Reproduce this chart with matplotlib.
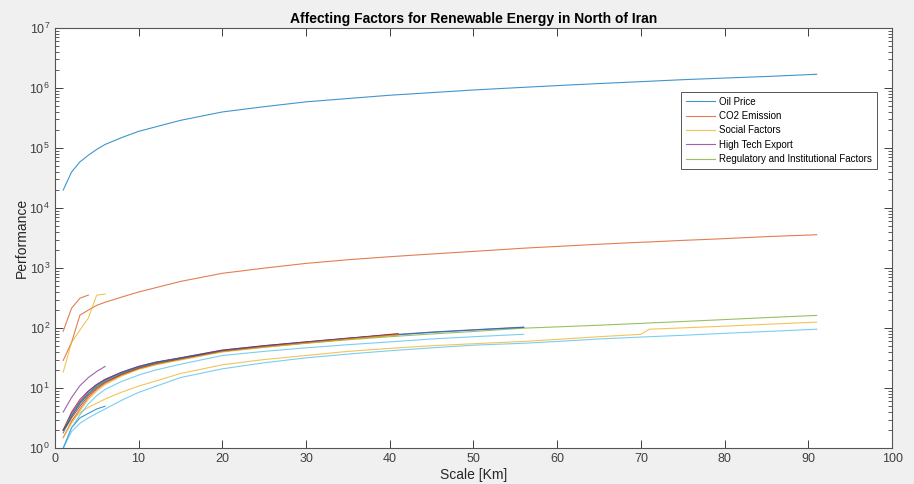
import matplotlib.pyplot as plt
import numpy as np

plt.rcParams['font.family'] = ['Liberation Sans', 'DejaVu Sans']

# matlab default colour order
colours = ['#0072BD', '#D95319', '#EDB120', '#7E2F8E', '#77AC30', '#4DBEEE', '#A2142F']

title = 'Affecting Factors for Renewable Energy in North of Iran'
xlabel = 'Scale [Km]'
ylabel = 'Performance'
labels = ['Oil Price', 'CO2 Emission', 'Social Factors', 'High Tech Export',
          'Regulatory and Institutional Factors']

# x grids
x_long = [1, 2, 3, 4, 5, 6, 8, 10, 15, 20, 25, 30, 35, 40, 45, 50, 56, 60, 65, 70, 71, 75, 80, 85, 91]
x_s6 = [1, 2, 3, 4, 5, 6]
x_s4 = [1, 2, 3, 4]
x_b41 = [1, 2, 3, 4, 5, 6, 8, 10, 12, 15, 20, 25, 30, 35, 41]
x_b56 = [1, 2, 3, 4, 5, 6, 8, 10, 12, 15, 20, 25, 30, 35, 40, 45, 50, 56]

# series values, in plotting order
oil = [2.0e4, 4.0e4, 5.9e4, 7.6e4, 9.5e4, 1.15e5, 1.5e5, 1.9e5, 2.9e5, 4.0e5, 4.9e5, 5.9e5, 6.7e5,
       7.6e5, 8.4e5, 9.3e5, 1.03e6, 1.1e6, 1.19e6, 1.28e6, 1.3e6, 1.38e6, 1.47e6, 1.56e6, 1.7e6]
co2 = [29, 58, 165, 200, 240, 270, 330, 400, 600, 820, 1000, 1200, 1380, 1550, 1720, 1900, 2150,
       2300, 2500, 2700, 2730, 2900, 3100, 3350, 3600]
social = [18.5, 58, 93, 147, 355, 370]
hightech = [4, 7, 11, 15, 19, 23]
regulatory = [2, 3.5, 5.8, 8, 10.5, 13, 17, 21, 31, 41, 48, 56, 64, 72, 80, 88, 100, 105, 112,
              120, 122, 129, 139, 150, 163]
low_blue = [1, 1.9, 2.6, 3.2, 3.8, 4.5, 6.3, 8.5, 15, 21, 26.5, 32, 37, 42, 47, 52, 56, 60, 66, 71,
            72, 76, 82, 88, 96]
red_a = [2, 4, 6.5, 9, 11.5, 14, 18.5, 23, 27, 32, 43, 51, 59, 68, 81]
blue_short = [1, 2.2, 3.2, 3.8, 4.5, 5.0]
orange_short = [89, 215, 316, 355]
low_yellow = [2, 2.9, 3.9, 4.8, 5.6, 6.6, 8.6, 10.8, 17.5, 24.5, 30, 35, 41, 46, 51, 55, 60, 65, 72,
              79, 96, 101, 108, 116, 126]
purple_b = [2, 3.8, 6, 8.8, 11.5, 14, 18.5, 23, 27, 32, 43, 51, 59, 68, 77, 86, 94, 104]
green_b = [2, 3.5, 5.5, 8, 10.5, 13, 17.5, 22, 26, 31, 41, 49, 57, 66, 79]
lblue_b = [1, 2.2, 3.6, 5.5, 7.5, 9.5, 13, 16.5, 20, 25, 35, 41, 47, 53, 59, 66, 72, 79]
red_b = [2, 3.2, 5, 7.5, 10, 12.5, 17, 21.5, 25.5, 30.5, 42, 50, 58, 67, 80]
blue_b = [1.8, 3.4, 5.6, 8.2, 11, 13.5, 18, 22.5, 26.5, 31.5, 42, 50, 58, 67, 76, 85, 93, 103]
orange_b = [1.5, 2.8, 4.5, 7, 9.5, 12, 16.5, 21, 25, 30, 41, 49, 57, 66, 78]
yellow_b = [1.5, 2.6, 4.2, 6.5, 9, 11.5, 16, 20.5, 24.5, 29.5, 40, 48, 56, 65, 77]

series = [(x_long, oil), (x_long, co2), (x_s6, social), (x_s6, hightech), (x_long, regulatory),
          (x_long, low_blue), (x_b41, red_a), (x_s6, blue_short), (x_s4, orange_short),
          (x_long, low_yellow), (x_b56, purple_b), (x_b41, green_b), (x_b56, lblue_b),
          (x_b41, red_b), (x_b56, blue_b), (x_b41, orange_b), (x_b41, yellow_b)]

fig = plt.figure(figsize=(9.14, 4.84), dpi=100, facecolor='#f0f0f0')
ax = fig.add_axes([0.060, 0.074, 0.916, 0.868])

lines = []
for i, (x, y) in enumerate(series):
    ln, = ax.plot(x, y, color=colours[i % 7], lw=0.8, alpha=0.75)
    lines.append(ln)

ax.set_yscale('log')
ax.set_xlim(0, 100)
ax.set_ylim(1, 1e7)
ax.set_xticks(np.arange(0, 101, 10))
ax.set_yticks([10.0 ** k for k in range(8)])
ax.tick_params(which='both', direction='in', top=True, right=True, labelsize=9, colors='#404040')
ax.tick_params(which='major', length=6, width=0.7)
ax.tick_params(which='minor', length=3, width=0.6)
ax.tick_params(axis='x', which='minor', top=False, bottom=False)
for s in ax.spines.values():
    s.set_color('#555555')
    s.set_linewidth(0.8)

ax.set_title(title, fontsize=10, fontweight='bold', pad=4)
ax.set_xlabel(xlabel, fontsize=10, color='#262626', labelpad=2)
ax.set_ylabel(ylabel, fontsize=10, color='#262626', labelpad=0)

leg = ax.legend(lines[:5], labels, loc='upper right', bbox_to_anchor=(0.984, 0.853), fontsize=7,
                fancybox=False, framealpha=1, edgecolor='#555555', handlelength=3.0,
                borderpad=0.5, labelspacing=0.45, handletextpad=0.4, borderaxespad=0.2)
leg.get_frame().set_linewidth(0.7)

plt.savefig('out.png', dpi=100, facecolor=fig.get_facecolor())
